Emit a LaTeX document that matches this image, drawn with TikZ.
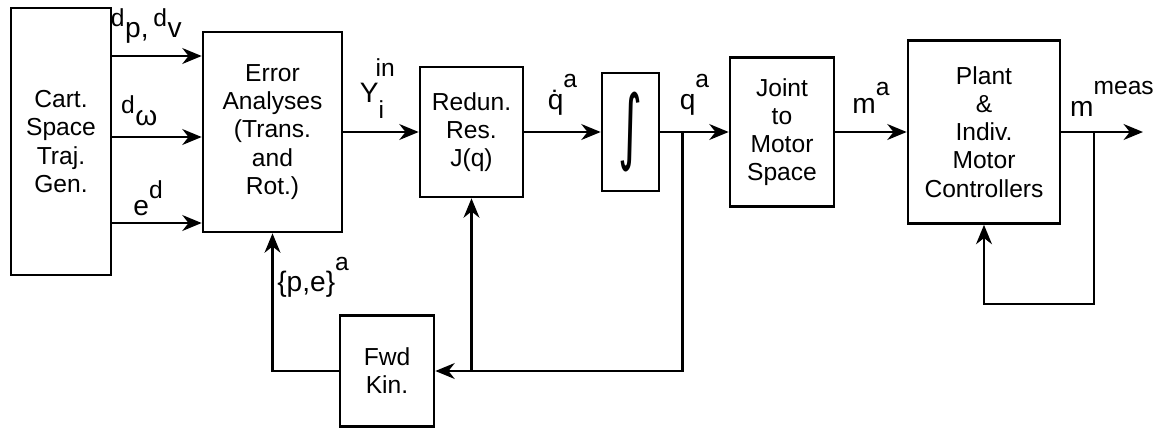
\documentclass[tikz,border=0pt]{standalone}
\usepackage{fontspec}
\setmainfont{Liberation Sans}
\newfontfamily\intfont{DejaVu Sans}
\usetikzlibrary{arrows.meta,calc}

% raised and lowered scripts for the signal labels
\newcommand{\up}[2][12pt]{\raisebox{#1}{\fontsize{14}{14}\selectfont #2}}
\newcommand{\pre}[2][6.5pt]{\up[#1]{#2}\kern0.02em}
\newcommand{\dn}[2][-9pt]{\raisebox{#1}{\fontsize{14}{14}\selectfont #2}}

\begin{document}
\begin{tikzpicture}[>={Stealth[length=11pt, width=9pt, inset=3.5pt]},
    line width=1.5pt,
    block/.style={draw, line width=1.5pt, inner sep=0pt, align=center,
        font=\fontsize{14}{16}\selectfont},
    sig/.style={font=\fontsize{16}{16}\selectfont, inner sep=2pt}]

    \useasboundingbox (0,0) rectangle (23.28,-8.56);

    % Row height of the forward path
    \def\row{-2.64}

    % Blocks
    \node[block, minimum width=2.0cm, minimum height=5.34cm] (gen) at (1.22,-2.83) {Cart.\\Space\\Traj.\\Gen.};
    \node[block, minimum width=2.78cm, minimum height=4.0cm] (err) at (5.45,\row) {Error\\Analyses\\(Trans.\\and\\Rot.)};
    \node[block, minimum width=2.06cm, minimum height=2.6cm] (red) at (9.43,\row) {Redun.\\Res.\\J(q)};
    \node[block, minimum width=1.14cm, minimum height=2.36cm] (int) at (12.61,\row) {\raisebox{0.15cm}{\resizebox*{0.48cm}{1.6cm}{\intfont ∫}}};
    \node[block, minimum width=2.08cm, minimum height=2.98cm] (jnt) at (15.64,\row) {Joint\\to\\Motor\\Space};
    \node[block, minimum width=3.04cm, minimum height=3.66cm] (plt) at (19.68,\row) {Plant\\\&\\Indiv.\\Motor\\Controllers};
    \node[block, minimum width=1.88cm, minimum height=2.22cm] (fwd) at (7.74,-7.42) {Fwd\\Kin.};

    % Reference inputs
    \foreach \yy/\pp/\gap/\lbl in {-1.12/0.38/4.5pt/{\pre{d}p,\,\pre{d}v}, -2.74/0.3/3.5pt/{\pre[7pt]{d}ω}, -4.46/0.4/1.5pt/{e\up[9.5pt]{d}}} {
        \draw[->] (gen.east |- 0,\yy) -- (err.west |- 0,\yy) node[sig, pos=\pp, above=\gap] {\lbl};
    }

    % Forward path
    \draw[->] (err.east) -- (red.west) node[sig, pos=0.45, above=5pt] {Y\dn{i}\hspace{-0.3em}\up[15pt]{in}};
    \draw[->] (red.east) -- (int.west) node[sig, midway, above=7pt] {\.{q}\up{a}};
    \draw[->] (int.east) -- (jnt.west) node[sig, midway, above=7pt] {q\up{a}};
    \draw[->] (jnt.east) -- (plt.west) node[sig, midway, above=8pt] {m\up[10pt]{a}};

    % Output and branch points
    \coordinate (out) at (22.86,\row);
    \coordinate (qb) at ($(int.east)!0.32!(jnt.west)$);
    \coordinate (mb) at ($(plt.east)!0.4!(out)$);
    \draw[->] (plt.east) -- (out) node[sig, pos=0.62, above=6pt] {m\up[12.5pt]{meas}};

    % Kinematic feedback
    \draw (qb) |- (fwd.east -| red.south);
    \draw[->] (fwd.east -| red.south) -- (fwd.east);
    \draw[->] (fwd.east -| red.south) -- (red.south);
    \draw[->] (fwd.west) -| (err.south) node[sig, pos=0.84, right] {\{p,e\}\up{a}};

    % Plant loop
    \draw[->] (mb) |- ($(plt.south)+(0,-1.58)$) -- (plt.south);

\end{tikzpicture}
\end{document}
